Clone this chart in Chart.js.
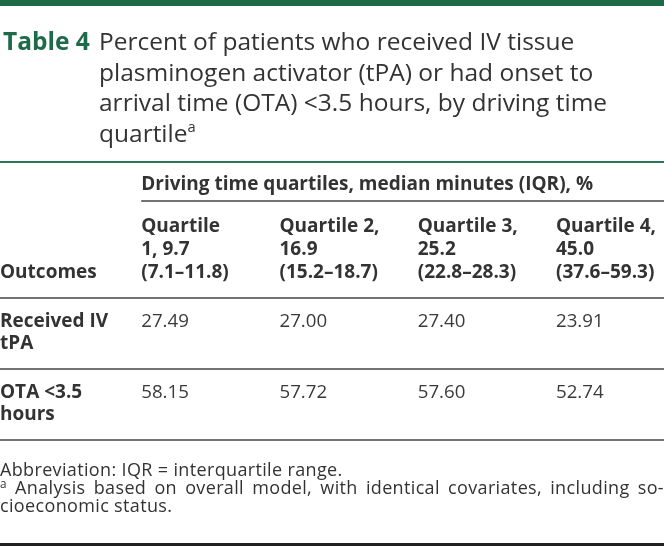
<!DOCTYPE html>
<html lang="en">
<head>
  <meta charset="UTF-8">
  <title>Table 4</title>
  <script src="https://cdn.jsdelivr.net/npm/chart.js"></script>
  <style>
    body { margin: 0; background: #fff; color: #333; font-family: 'Open Sans', sans-serif; }
    #wrap { position: relative; width: 664px; height: 546px; overflow: hidden; }
    #tableChart { position: absolute; left: 0; top: 0; }
    .tag { position: absolute; left: 3px; top: 26px; font-size: 24.5px; line-height: 30.7px; font-weight: 700; color: #1e6b4b; }
    .cap { position: absolute; left: 99px; top: 26px; font-size: 24.5px; line-height: 30.7px; color: #333; white-space: nowrap; }
    .cap sup { font-size: 0.6em; line-height: 0; vertical-align: 0.7em; }
    .notes sup { font-size: 0.65em; line-height: 0; vertical-align: 0.55em; }
    .notes { position: absolute; left: 0; top: 460px; width: 664px; font-size: 18px; line-height: 18px; letter-spacing: 0.35px; color: #333; }
    .notes .just { text-align: justify; text-align-last: justify; }
  </style>
</head>
<body>
  <div id="wrap">
    <canvas id="tableChart"></canvas>
    <div class="tag">Table 4</div>
    <div class="cap">Percent of patients who received IV tissue<br>plasminogen activator (tPA) or had onset to<br>arrival time (OTA) &lt;3.5 hours, by driving time<br>quartile<sup>a</sup></div>
    <div class="notes">
      <div>Abbreviation: IQR = interquartile range.</div>
      <div class="just"><sup>a</sup> Analysis based on overall model, with identical covariates, including so-</div>
      <div>cioeconomic status.</div>
    </div>
  </div>

  <script>
    const columns = ['Outcomes', 'Q1', 'Q2', 'Q3', 'Q4'];
    const groupHeader = 'Driving time quartiles, median minutes (IQR), %';
    const columnHeaders = [
      ['Quartile', '1, 9.7', '(7.1–11.8)'],
      ['Quartile 2,', '16.9', '(15.2–18.7)'],
      ['Quartile 3,', '25.2', '(22.8–28.3)'],
      ['Quartile 4,', '45.0', '(37.6–59.3)']
    ];
    const rowKeys = ['tpa', 'ota'];
    const rowLabels = [['Received IV', 'tPA'], ['OTA <3.5', 'hours']];
    const receivedTpa = [27.49, 27.00, 27.40, 23.91];
    const otaUnder35 = [58.15, 57.72, 57.60, 52.74];

    const rowValues = [receivedTpa, otaUnder35];

    // draws the table text and rules from the scale positions
    const tablePlugin = {
      id: 'tableDraw',
      afterDatasetsDraw(chart) {
        const { ctx, chartArea, scales: { x, y } } = chart;
        const W = chart.width;
        const band = y.getPixelForValue(1) - y.getPixelForValue(0);
        const top = chartArea.top;
        ctx.save();
        ctx.textAlign = 'left';
        ctx.textBaseline = 'alphabetic';

        const rule = (y0, x0, x1, w, c) => {
          ctx.beginPath();
          ctx.strokeStyle = c;
          ctx.lineWidth = w;
          ctx.moveTo(x0, y0);
          ctx.lineTo(x1, y0);
          ctx.stroke();
        };

        // top bar and title rule
        ctx.fillStyle = '#1d6a47';
        ctx.fillRect(0, 0, W, 6);
        rule(162, 0, W, 2, '#2a7656');

        // header
        const q1x = x.getPixelForValue(1);
        ctx.fillStyle = '#333';
        ctx.font = 'bold 19px "Open Sans"';
        ctx.fillText(groupHeader, q1x, top - 108);
        rule(top - 97, q1x, W, 1.5, '#444');
        columnHeaders.forEach((lines, i) => {
          const px = x.getPixelForValue(i + 1);
          lines.forEach((t, k) => ctx.fillText(t, px, top - 66 + k * 23));
        });
        ctx.fillText(columns[0], x.getPixelForValue(0) - 3, top - 20);

        // row labels
        rowLabels.forEach((lines, r) => {
          const py = y.getPixelForValue(r);
          lines.forEach((t, k) => ctx.fillText(t, x.getPixelForValue(0) - 3, py - 7 + k * 22));
        });

        // cell values
        ctx.font = '18.7px "Open Sans"';
        ctx.fillStyle = '#3a3a3a';
        chart.data.datasets.forEach((ds, di) => {
          chart.getDatasetMeta(di).data.forEach((pt, i) => {
            ctx.fillText(ds.data[i].v.toFixed(2), pt.x, pt.y - 7);
          });
        });

        // row rules
        rule(y.getPixelForValue(0) - band / 2, 0, W, 1.5, '#444');
        rowKeys.forEach((k, r) => rule(y.getPixelForValue(r) + band / 2, 0, W, 1.5, '#444'));

        // bottom rule
        rule(544.5, 0, W, 3, '#222');
        ctx.restore();
      }
    };

    new Chart(document.getElementById('tableChart').getContext('2d'), {
      type: 'scatter',
      data: {
        datasets: rowKeys.map((key, r) => ({
          label: key,
          data: columns.slice(1).map((c, i) => ({ x: c, y: key, v: rowValues[r][i] })),
          pointRadius: 0,
          pointHoverRadius: 0
        }))
      },
      options: {
        responsive: true,
        maintainAspectRatio: false,
        animation: false,
        layout: { padding: { left: 3, right: 108, top: 298, bottom: 106 } },
        scales: {
          x: { type: 'category', labels: columns, offset: false, display: false },
          y: { type: 'category', labels: rowKeys, offset: true, display: false }
        },
        plugins: { legend: { display: false }, tooltip: { enabled: false } }
      },
      plugins: [tablePlugin]
    });
  </script>
</body>
</html>
